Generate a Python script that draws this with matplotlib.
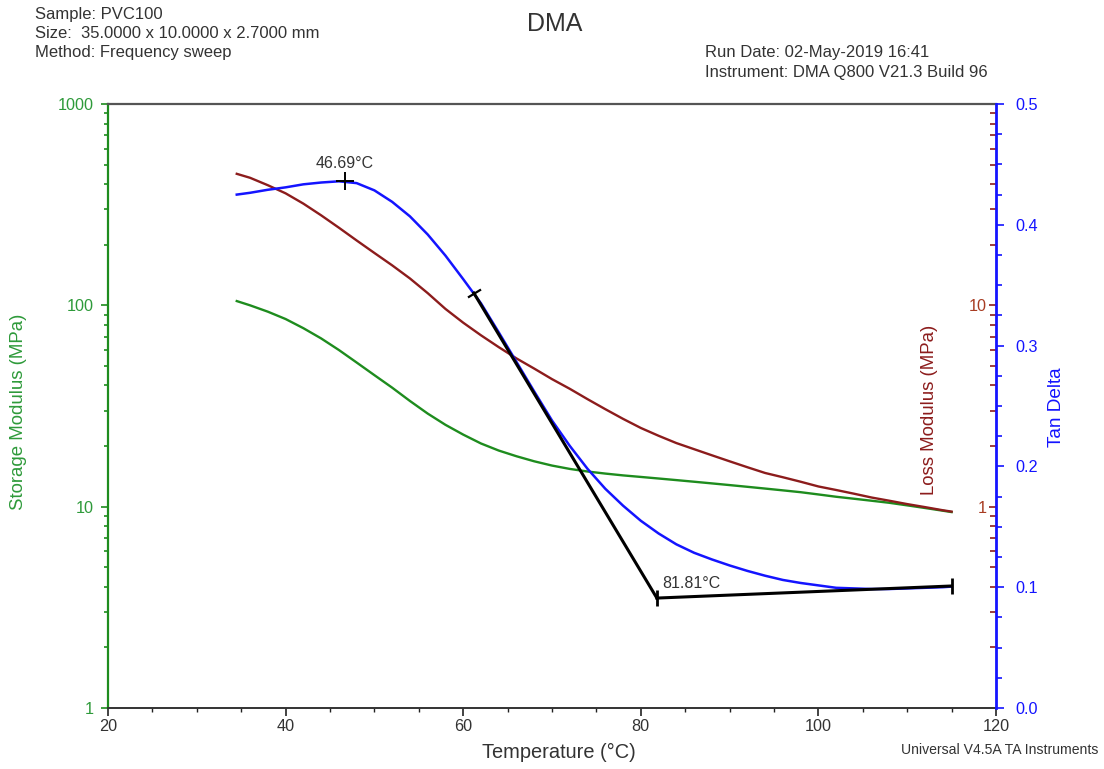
import matplotlib
matplotlib.use("Agg")
import matplotlib.pyplot as plt
from matplotlib.ticker import FixedLocator, LogLocator, MultipleLocator, NullFormatter, FormatStrFormatter

plt.rcParams['font.family'] = ['Liberation Sans', 'DejaVu Sans']

# ---------------------------- #
#   DMA frequency sweep data   #
# ---------------------------- #
temp = [34.5, 36, 38, 40, 42, 44, 46, 48, 50, 52, 54, 56, 58, 60, 62, 64, 66, 68,
        70, 72, 74, 76, 78, 80, 82, 84, 86, 88, 90, 92, 94, 96, 98, 100, 102, 104,
        106, 108, 110, 112, 114, 115]  # degC
storage = [105, 100, 93, 85.5, 77, 68.5, 60, 52, 45, 39, 33.5, 29, 25.5, 22.8, 20.6,
           19.0, 17.8, 16.8, 16.0, 15.4, 14.95, 14.6, 14.3, 14.05, 13.8, 13.55, 13.3,
           13.05, 12.8, 12.55, 12.3, 12.05, 11.8, 11.5, 11.2, 10.95, 10.7, 10.45,
           10.15, 9.85, 9.55, 9.4]  # MPa
loss = [45, 43, 39.5, 36, 32, 28, 24.3, 21, 18.2, 15.8, 13.6, 11.5, 9.6, 8.2, 7.1,
        6.2, 5.45, 4.85, 4.3, 3.85, 3.42, 3.05, 2.73, 2.46, 2.25, 2.07, 1.93, 1.8,
        1.68, 1.57, 1.47, 1.4, 1.33, 1.26, 1.21, 1.16, 1.11, 1.07, 1.03, 0.995,
        0.96, 0.945]  # MPa
tan_delta = [0.425, 0.4265, 0.429, 0.431, 0.4335, 0.435, 0.436, 0.4345, 0.4285, 0.419,
             0.407, 0.392, 0.3745, 0.355, 0.335, 0.311, 0.2865, 0.262, 0.238, 0.217,
             0.198, 0.1815, 0.1675, 0.155, 0.1445, 0.1355, 0.1285, 0.123, 0.118, 0.1135,
             0.1095, 0.106, 0.1035, 0.1015, 0.0995, 0.099, 0.0985, 0.0985, 0.099,
             0.0995, 0.100, 0.1005]

# tan delta peak and onset analysis (tangent + baseline)
peak_T, peak_tan = 46.69, 0.436
tangent_T = [61.2, 81.81]
tangent_tan = [0.3435, 0.091]
baseline_T = [81.81, 115.0]
baseline_tan = [0.091, 0.101]

GREEN = '#1e8c1e'
GREEN_TXT = '#2e9a3a'
MAROON = '#8c1c1c'
MAROON_TXT = '#a83c22'
BLUE = '#1414ff'
TXT = '#333333'

fig = plt.figure(figsize=(11.04, 7.69), dpi=100)
ax = fig.add_axes([108 / 1104, 1 - 708 / 769, 888 / 1104, 604 / 769])

# storage modulus (left, log)
ax.plot(temp, storage, color=GREEN, lw=1.7)
ax.set_yscale('log')
ax.set_ylim(1, 1000)
ax.set_xlim(20, 120)
ax.yaxis.set_major_locator(FixedLocator([1, 10, 100, 1000]))
ax.set_yticklabels(['1', '10', '100', '1000'])
ax.yaxis.set_minor_locator(LogLocator(base=10, subs=range(2, 10)))
ax.yaxis.set_minor_formatter(NullFormatter())
ax.set_xticks([20, 40, 60, 80, 100, 120])
ax.xaxis.set_minor_locator(MultipleLocator(5))
ax.tick_params(axis='y', which='major', length=5, width=1.2, color=GREEN,
               labelcolor=GREEN_TXT, labelsize=11.7, pad=5.5)
ax.tick_params(axis='y', which='minor', length=3, width=1.2, color=GREEN)
ax.tick_params(axis='x', which='major', length=6, width=1.2, color='#222222',
               labelcolor=TXT, labelsize=11.7, pad=2)
ax.tick_params(axis='x', which='minor', length=3, width=1, color='#222222')
ax.spines['left'].set_color(GREEN)
ax.spines['left'].set_linewidth(1.6)
ax.spines['top'].set_color('#555555')
ax.spines['top'].set_linewidth(1.6)
ax.spines['bottom'].set_color('#333333')
ax.spines['bottom'].set_linewidth(1.4)
ax.spines['right'].set_visible(False)
ax.set_ylabel('Storage Modulus (MPa)', color=GREEN_TXT, fontsize=13.4)
ax.yaxis.set_label_coords(-0.091, 0.49)
ax.set_xlabel('Temperature (\u00b0C)', color=TXT, fontsize=14.4)
ax.xaxis.set_label_coords(0.508, -0.058)

# loss modulus (log, ticks on the right edge pointing inward)
ax2 = ax.twinx()
ax2.plot(temp, loss, color=MAROON, lw=1.7)
ax2.set_yscale('log')
ax2.set_ylim(0.1, 100)
ax2.yaxis.set_ticks_position('left')
ax2.yaxis.set_label_position('left')
for s in ax2.spines.values():
    s.set_visible(False)
ax2.spines['left'].set_position(('axes', 1.0))
ax2.yaxis.set_major_locator(FixedLocator([1, 10]))
ax2.set_yticklabels(['1', '10'])
ax2.yaxis.set_minor_locator(LogLocator(base=10, subs=range(2, 10)))
ax2.yaxis.set_minor_formatter(NullFormatter())
ax2.tick_params(axis='y', which='major', length=5, width=1.2, color=MAROON,
                labelcolor=MAROON_TXT, labelsize=11.7, pad=1.5)
ax2.tick_params(axis='y', which='minor', length=4, width=1.2, color=MAROON)
ax2.set_ylabel('Loss Modulus (MPa)', color=MAROON, fontsize=13.4)
ax2.yaxis.set_label_coords(0.935, 0.493)

# tan delta (right, linear)
ax3 = ax.twinx()
ax3.plot(temp, tan_delta, color=BLUE, lw=1.8)
ax3.plot(tangent_T, tangent_tan, color='black', lw=2.2)
ax3.plot(baseline_T, baseline_tan, color='black', lw=2.2)
ax3.plot([tangent_T[0]], [tangent_tan[0]], marker=(2, 0, -58.6), ms=11, mew=1.6, color='black')
ax3.plot(baseline_T, baseline_tan, ls='none', marker='|', ms=12, mew=2, color='black')
ax3.plot([peak_T], [peak_tan], marker='+', ms=13, mew=1.4, color='black')
ax3.text(peak_T, peak_tan + 0.015, '%.2f\u00b0C' % peak_T, ha='center', va='center',
         fontsize=11.5, color=TXT)
ax3.text(baseline_T[0] + 0.6, baseline_tan[0] + 0.012, '%.2f\u00b0C' % baseline_T[0],
         ha='left', va='center', fontsize=11.5, color=TXT)
ax3.set_ylim(0, 0.5)
ax3.yaxis.set_major_locator(MultipleLocator(0.1))
ax3.yaxis.set_minor_locator(MultipleLocator(0.025))
ax3.yaxis.set_major_formatter(FormatStrFormatter('%.1f'))
for name in ['left', 'top', 'bottom']:
    ax3.spines[name].set_visible(False)
ax3.spines['right'].set_color(BLUE)
ax3.spines['right'].set_linewidth(2)
ax3.tick_params(axis='y', which='major', length=6, width=1.2, color=BLUE,
                labelcolor=BLUE, labelsize=11.7, pad=8)
ax3.tick_params(axis='y', which='minor', length=4, width=1.2, color=BLUE)
ax3.set_ylabel('Tan Delta', color=BLUE, fontsize=13.7)
ax3.yaxis.set_label_coords(1.059, 0.498)

# header and footer text
fig.text(35 / 1104, 1 - 15 / 769, 'Sample: PVC100', fontsize=12, color=TXT, va='center')
fig.text(35 / 1104, 1 - 33.5 / 769, 'Size:  35.0000 x 10.0000 x 2.7000 mm', fontsize=12,
         color=TXT, va='center')
fig.text(35 / 1104, 1 - 52 / 769, 'Method: Frequency sweep', fontsize=12, color=TXT, va='center')
fig.text(555 / 1104, 1 - 24 / 769, 'DMA', fontsize=18, color=TXT, ha='center', va='center')
fig.text(705 / 1104, 1 - 53 / 769, 'Run Date: 02-May-2019 16:41', fontsize=12, color=TXT,
         va='center')
fig.text(705 / 1104, 1 - 72 / 769, 'Instrument: DMA Q800 V21.3 Build 96', fontsize=12,
         color=TXT, va='center')
fig.text(1098 / 1104, 1 - 750 / 769, 'Universal V4.5A TA Instruments', fontsize=10.1,
         color=TXT, ha='right', va='center')

fig.savefig('out.png', dpi=100)
